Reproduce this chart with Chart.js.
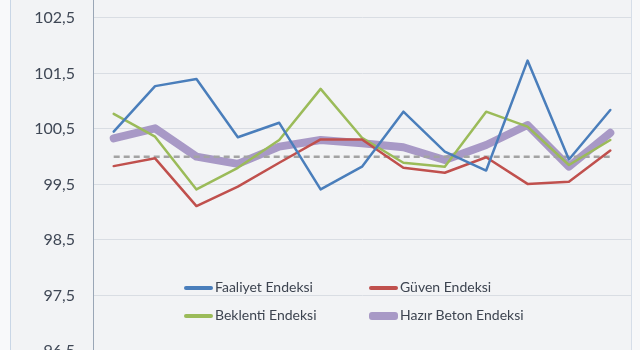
<!DOCTYPE html>
<html>
<head>
<meta charset="utf-8">
<script src="https://cdn.jsdelivr.net/npm/chart.js@4/dist/chart.umd.min.js"></script>
<style>
  html, body { margin:0; padding:0; width:640px; height:350px; overflow:hidden; background:#f2f3f5; }
  #strip { position:absolute; left:0; top:0; width:10px; height:350px; background:#f8f9fa; border-right:1px solid #c9d6e6; z-index:2; }
  #edge { position:absolute; left:631px; top:0; width:9px; height:350px; background:#f7f8f9; border-left:1px solid #d6dee8; }
  #wrap { position:absolute; left:0; top:-27px; width:631px; height:470px; }
  #legend { position:absolute; left:184px; top:277px; width:380px; font-family:Lato, "Open Sans", sans-serif; font-size:14px; color:#3d4450; }
  .item { position:absolute; height:20px; line-height:20px; white-space:nowrap; }
  .item i { display:inline-block; width:29px; vertical-align:middle; border-radius:3px; margin-right:2px; }
</style>
</head>
<body>
<div id="strip"></div>
<div id="wrap"><canvas id="chart" width="631" height="470"></canvas></div>
<div id="edge"></div>
<div id="legend"></div>
<script>
// 13 periods, axis labels hidden in the source crop
const periods = ['1','2','3','4','5','6','7','8','9','10','11','12','13'];
const seriesNames = ['Faaliyet Endeksi', 'Güven Endeksi', 'Beklenti Endeksi', 'Hazır Beton Endeksi'];
const faaliyet  = [100.45, 101.27, 101.40, 100.35, 100.61, 99.41, 99.82, 100.81, 100.09, 99.75, 101.73, 99.95, 100.84];
const guven     = [99.83, 99.97, 99.11, 99.46, 99.89, 100.31, 100.31, 99.80, 99.71, 99.99, 99.51, 99.55, 100.11];
const beklenti  = [100.77, 100.36, 99.41, 99.80, 100.30, 101.22, 100.34, 99.89, 99.82, 100.81, 100.54, 99.85, 100.30];
const hazirBeton= [100.33, 100.51, 100.00, 99.87, 100.18, 100.30, 100.24, 100.17, 99.94, 100.21, 100.57, 99.82, 100.43];
const baseline  = [100, 100, 100, 100, 100, 100, 100, 100, 100, 100, 100, 100, 100];
const yTicks    = [96.5, 97.5, 98.5, 99.5, 100.5, 101.5, 102.5];

const colors = ['#4a7ebb', '#c0504d', '#9bbb59', '#a899c6'];
const widths = [2.5, 2.5, 2.5, 8];

const lineSet = (label, data, i, order) => ({
  label, data, borderColor: colors[i], borderWidth: widths[i],
  pointRadius: 0, tension: 0, fill: false, order,
  borderCapStyle: 'round', borderJoinStyle: 'round'
});

new Chart(document.getElementById('chart'), {
  type: 'line',
  data: {
    labels: periods,
    datasets: [
      lineSet(seriesNames[0], faaliyet, 0, 1),
      lineSet(seriesNames[1], guven, 1, 2),
      lineSet(seriesNames[2], beklenti, 2, 3),
      { label: 'baseline', data: baseline, borderColor: '#a3a3a3', borderWidth: 2.5,
        borderDash: [6, 4], pointRadius: 0, fill: false, order: 4 },
      lineSet(seriesNames[3], hazirBeton, 3, 5)
    ]
  },
  options: {
    responsive: false, animation: false,
    layout: { padding: 0 },
    plugins: { legend: { display: false }, tooltip: { enabled: false } },
    scales: {
      x: { display: false, offset: true },
      y: {
        min: 102.81 - 414.5 / 55.5, max: 102.81,
        afterBuildTicks: s => { s.ticks = yTicks.map(v => ({ value: v })); },
        afterFit: s => { s.width = 93; },
        border: { color: '#9aa6b6', width: 1 },
        grid: { color: '#d9dde3', drawTicks: false, lineWidth: 1 },
        ticks: {
          padding: 18, color: '#3f4755',
          font: { family: 'Lato, "Open Sans", sans-serif', size: 16 },
          callback: v => String(v).replace('.', ',')
        }
      }
    }
  }
});

// legend drawn inside the plot, 2x2
const legendPos = [[0, 0], [185, 0], [0, 28], [185, 28]];
const leg = document.getElementById('legend');
seriesNames.forEach((name, i) => {
  const d = document.createElement('div');
  d.className = 'item';
  d.style.left = legendPos[i][0] + 'px';
  d.style.top = legendPos[i][1] + 'px';
  d.innerHTML = `<i style="background:${colors[i]};height:${i === 3 ? 8 : 4}px"></i>${name}`;
  leg.appendChild(d);
});
</script>
</body>
</html>
